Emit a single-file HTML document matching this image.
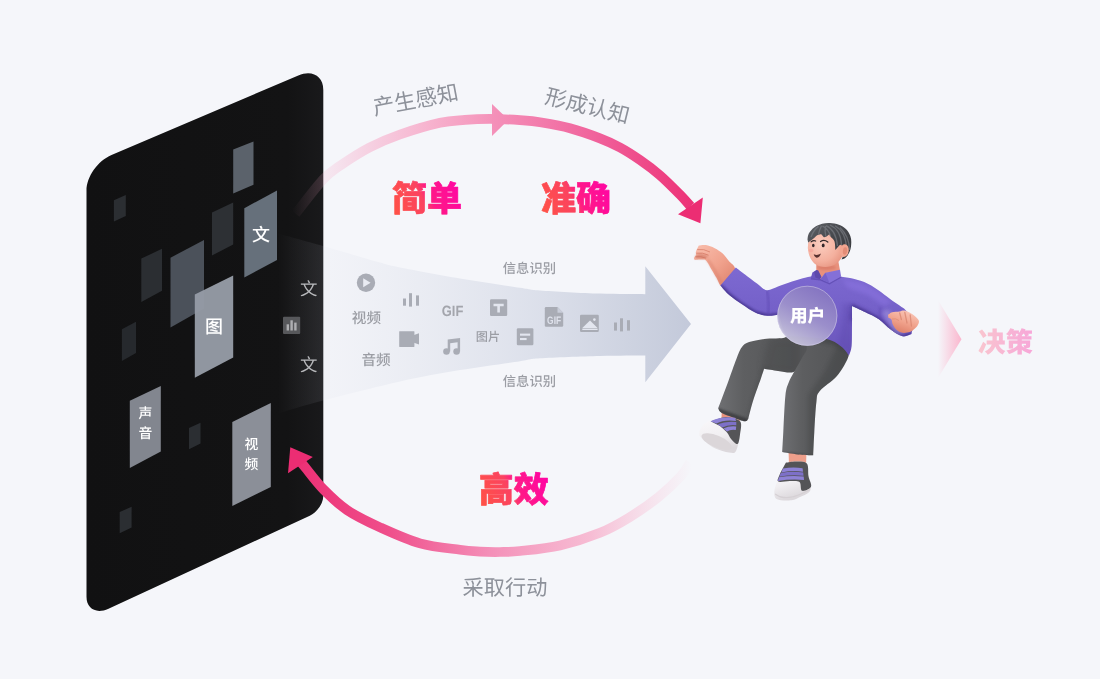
<!DOCTYPE html>
<html lang="zh"><head><meta charset="utf-8"><title>信息识别</title>
<style>html,body{margin:0;padding:0;background:#f5f6fa;overflow:hidden}svg{display:block;will-change:transform;opacity:0.9999}text{text-rendering:geometricPrecision}</style>
</head><body>
<svg width="1100" height="679" viewBox="0 0 1100 679">

<defs>
<linearGradient id="gPhone" x1="86" y1="0" x2="323" y2="0" gradientUnits="userSpaceOnUse">
 <stop offset="0" stop-color="#111112"/><stop offset="0.85" stop-color="#131314"/><stop offset="1" stop-color="#19191b"/>
</linearGradient>
<linearGradient id="gTop" x1="292" y1="0" x2="702" y2="0" gradientUnits="userSpaceOnUse">
 <stop offset="0" stop-color="#f7a6c6" stop-opacity="0"/>
 <stop offset="0.08" stop-color="#f7a6c6" stop-opacity="0.18"/>
 <stop offset="0.2" stop-color="#f7a6c6" stop-opacity="0.5"/>
 <stop offset="0.35" stop-color="#f7a3c4" stop-opacity="0.85"/>
 <stop offset="0.5" stop-color="#f48fb8"/>
 <stop offset="0.75" stop-color="#f0609a"/>
 <stop offset="1" stop-color="#ec2d73"/>
</linearGradient>
<linearGradient id="gBot" x1="288" y1="0" x2="692" y2="0" gradientUnits="userSpaceOnUse">
 <stop offset="0" stop-color="#ec2d73"/>
 <stop offset="0.25" stop-color="#ef4f8b"/>
 <stop offset="0.5" stop-color="#f48fb8"/>
 <stop offset="0.75" stop-color="#f7a9c7" stop-opacity="0.75"/>
 <stop offset="0.92" stop-color="#f9bcd3" stop-opacity="0.25"/>
 <stop offset="1" stop-color="#f9bcd3" stop-opacity="0"/>
</linearGradient>
<linearGradient id="gBeam" x1="278" y1="0" x2="692" y2="0" gradientUnits="userSpaceOnUse">
 <stop offset="0" stop-color="#d9dde9" stop-opacity="0"/>
 <stop offset="0.03" stop-color="#d9dde9" stop-opacity="0.03"/>
 <stop offset="0.11" stop-color="#d5d9e6" stop-opacity="0.09"/>
 <stop offset="0.3" stop-color="#cfd4e2" stop-opacity="0.25"/>
 <stop offset="0.6" stop-color="#c8cede" stop-opacity="0.52"/>
 <stop offset="0.85" stop-color="#c5cbdb" stop-opacity="0.82"/>
 <stop offset="1" stop-color="#c3c9da" stop-opacity="1"/>
</linearGradient>
<linearGradient id="gHot" x1="0" y1="0.62" x2="1" y2="0.38">
 <stop offset="0" stop-color="#ff5147"/><stop offset="0.44" stop-color="#fb4360"/><stop offset="0.56" stop-color="#ff1a86"/><stop offset="1" stop-color="#ff06a2"/>
</linearGradient>
<linearGradient id="gSoft" x1="0" y1="0" x2="1" y2="0">
 <stop offset="0" stop-color="#f9c6cf"/><stop offset="1" stop-color="#f7a6d8"/>
</linearGradient>
<linearGradient id="gChev" x1="938" y1="0" x2="962" y2="0" gradientUnits="userSpaceOnUse">
 <stop offset="0" stop-color="#fbb5cd" stop-opacity="0"/><stop offset="1" stop-color="#fbb5cd" stop-opacity="1"/>
</linearGradient>
<linearGradient id="gCircle" x1="0.75" y1="0.05" x2="0.25" y2="0.95">
 <stop offset="0" stop-color="#8575c1" stop-opacity="0.97"/><stop offset="0.5" stop-color="#9c90cb" stop-opacity="0.97"/><stop offset="1" stop-color="#c6c3da" stop-opacity="0.97"/>
</linearGradient>
<filter id="b1" x="-20%" y="-20%" width="140%" height="140%"><feGaussianBlur stdDeviation="1"/></filter>
<filter id="b2" x="-20%" y="-20%" width="140%" height="140%"><feGaussianBlur stdDeviation="2"/></filter>
<filter id="b3" x="-30%" y="-30%" width="160%" height="160%"><feGaussianBlur stdDeviation="3.5"/></filter>
<filter id="b05" x="-20%" y="-20%" width="140%" height="140%"><feGaussianBlur stdDeviation="0.5"/></filter>
</defs>

<rect width="1100" height="679" fill="#f5f6fa"/>
<path d="M86.50,190.50C86.50,176.69 97.69,160.75 111.50,154.88L298.30,75.52C312.11,69.65 323.30,76.09 323.30,89.90L323.30,495.90C323.30,503.36 317.26,512.19 309.80,515.64L108.50,608.64C96.35,614.25 86.50,608.95 86.50,596.80Z" fill="url(#gPhone)"/>
<g id="tiles">
<path d="M113.9,200.2L125.8,195.0L125.8,216.0L113.9,221.5Z" fill="#2b2e32"/>
<path d="M233.2,149.4L253.5,141.5L253.5,184.8L233.2,193.6Z" fill="#5b626b"/>
<path d="M212.0,212.6L233.2,202.5L233.2,244.4L212.0,255.5Z" fill="#2d3034"/>
<path d="M244.3,208.2L277.0,190.5L277.0,259.9L244.3,277.6Z" fill="#66707b"/>
<path d="M141.3,258.6L162.0,248.8L162.0,290.8L141.3,301.9Z" fill="#2b2e32"/>
<path d="M170.5,257.7L204.0,240.0L204.0,308.5L170.5,327.5Z" fill="#4b515a"/>
<path d="M121.9,329.3L136.0,321.8L136.0,353.0L121.9,360.9Z" fill="#26292d"/>
<path d="M194.8,294.4L233.2,275.4L233.2,357.4L194.8,377.7Z" fill="#959ba5" fill-opacity="0.97"/>
<path d="M129.8,400.7L160.8,386.1L160.8,451.5L129.8,467.9Z" fill="#82868f"/>
<path d="M189.0,428.1L200.5,422.8L200.5,443.6L189.0,449.3Z" fill="#2b2e32"/>
<path d="M232.3,421.9L270.8,402.9L270.8,486.9L232.3,505.9Z" fill="#8b8f98"/>
<path d="M119.7,512.0L131.6,506.8L131.6,527.5L119.7,533.3Z" fill="#2b2e32"/>
</g>
<path d="M295.5,213.8C300.1,208.1 315.6,187.5 323.0,179.5C330.4,171.5 332.2,171.0 340.0,165.7C347.8,160.4 359.5,152.7 369.5,147.5C379.5,142.3 388.2,138.6 400.0,134.5C411.8,130.4 429.2,125.2 440.0,122.8C450.8,120.4 456.7,120.6 465.0,119.9C473.3,119.2 480.8,118.9 490.0,118.9C499.2,119.0 511.7,119.6 520.0,120.2C528.3,120.8 531.7,120.9 540.0,122.3C548.3,123.7 560.0,125.6 570.0,128.3C580.0,131.0 591.7,135.2 600.0,138.4C608.3,141.6 613.3,143.9 620.0,147.5C626.7,151.1 633.3,155.4 640.0,160.0C646.7,164.6 653.3,169.5 660.0,175.3C666.7,181.1 674.9,189.5 680.0,194.7C685.1,199.9 688.8,204.4 690.5,206.3" fill="none" stroke="url(#gTop)" stroke-width="9.7"/>
<path d="M492,104L508.5,119.7L492,136Z" fill="url(#gTop)"/>
<path d="M700.4,223.3L702.8,197.5L678,214.2Z" fill="#ec2d73"/>
<path d="M278.0,233.5C285.5,235.6 306.0,241.2 323.0,246.0C340.0,250.8 367.2,259.0 380.0,262.6C392.8,266.2 386.7,264.9 400.0,267.5C413.3,270.1 440.0,275.1 460.0,278.5C480.0,281.9 506.7,285.7 520.0,287.7C533.3,289.7 526.7,289.4 540.0,290.4C553.3,291.4 582.5,293.0 600.0,293.6C617.5,294.2 637.8,294.1 645.3,294.2L645.3,266.2L691,324.1L645.3,382.3L645.3,355.5C637.8,355.6 617.5,355.5 600.0,356.0C582.5,356.5 553.3,357.4 540.0,358.3C526.7,359.2 533.3,359.2 520.0,361.2C506.7,363.2 480.0,366.7 460.0,370.1C440.0,373.5 422.8,376.4 400.0,381.5C377.2,386.6 343.3,395.3 323.0,400.6C302.7,405.9 285.5,411.4 278.0,413.5Z" fill="url(#gBeam)"/>
<path d="M300.0,461.0C300.9,462.1 301.5,462.9 305.4,467.6C309.3,472.4 316.7,482.4 323.6,489.5C330.6,496.6 337.7,503.8 347.1,510.1C356.5,516.4 367.9,521.8 380.0,527.3C392.1,532.8 406.7,539.5 420.0,543.3C433.3,547.0 450.0,548.4 460.0,549.8C470.0,551.2 473.3,551.2 480.0,551.6C486.7,552.0 493.3,552.1 500.0,552.0C506.7,551.9 510.0,552.1 520.0,551.0C530.0,549.9 546.7,548.4 560.0,545.4C573.3,542.4 588.4,537.5 600.0,532.8C611.6,528.1 619.7,523.3 629.5,517.3C639.3,511.3 650.3,503.6 658.9,496.7C667.5,489.8 675.8,481.8 681.0,476.1C686.2,470.4 688.5,464.8 690.0,462.5" fill="none" stroke="url(#gBot)" stroke-width="9.7"/>
<path d="M290.3,447.2L312.8,457L288,473.3Z" fill="#ec2d73"/>
<g font-family="'Liberation Sans','Noto Sans CJK SC',sans-serif" text-anchor="middle">
<text x="261" y="240.5" font-size="18" font-weight="500" fill="#fff">文</text>
<text x="214" y="332.5" font-size="18" font-weight="500" fill="#fff">图</text>
<text x="145.3" y="417.6" font-size="13.8" font-weight="500" fill="#fff">声</text><text x="145.3" y="438" font-size="13.8" font-weight="500" fill="#fff">音</text>
<text x="251.3" y="448.6" font-size="13.8" font-weight="500" fill="#fff">视</text><text x="251.3" y="469" font-size="13.8" font-weight="500" fill="#fff">频</text>
<text x="308.7" y="294.9" font-size="17.5" fill="#b7b8bb">文</text>
<text x="308.7" y="370.9" font-size="17.5" fill="#b7b8bb">文</text>
<rect x="283" y="316.8" width="17.2" height="17.2" rx="1" fill="#57585b"/>
<g fill="#aeafb2"><rect x="286.6" y="324.3" width="2.4" height="6.2"/><rect x="290.4" y="320.3" width="2.4" height="10.2"/><rect x="294.2" y="322.6" width="2.4" height="7.9"/></g>
<text transform="translate(417,107.2) rotate(-10.6)" font-size="21.6" fill="#8d919a">产生感知</text>
<text transform="translate(585.6,113.3) rotate(13.8)" font-size="21.5" fill="#8d919a">形成认知</text>
<text x="505" y="595" font-size="21.2" fill="#8d919a">采取行动</text>
<g font-weight="900" font-size="35" fill="url(#gHot)" stroke="url(#gHot)" stroke-width="0.7" stroke-linejoin="round">
<text x="427" y="211">简单</text>
<text x="576" y="211">准确</text>
<text x="513.7" y="502.3">高效</text>
</g>
<g fill="#9b9da4" font-weight="500">
<text x="529.4" y="272.8" font-size="13.3">信息识别</text>
<text x="529.4" y="385.8" font-size="13.3">信息识别</text>
<text x="366.4" y="322.5" font-size="14.6">视频</text>
<text x="376" y="364.8" font-size="14.6">音频</text>
<text x="452.6" y="315.7" font-size="14.9" font-weight="bold" fill="#a3a5ac" font-family="'Liberation Sans',sans-serif" textLength="21.6" lengthAdjust="spacingAndGlyphs">GIF</text>
<text x="488" y="340.6" font-size="12.2">图片</text>
</g>
<path d="M938,300L961.5,339.2L938,378Z" fill="url(#gChev)"/>
<text x="1005.5" y="352.3" font-size="27.5" font-weight="900" fill="url(#gSoft)">决策</text>
</g>
<g fill="#a9acb5">
<circle cx="366" cy="282.8" r="9.2"/><path d="M363.2,278.3L370.6,282.8L363.2,287.3Z" fill="#e9ebf2"/>
<rect x="403" y="298.5" width="3" height="7.2"/><rect x="409" y="293.2" width="3" height="13.4"/><rect x="416" y="295.4" width="3" height="10.3"/>
<rect x="399.2" y="331.2" width="15.2" height="15.7" rx="0.4"/><path d="M414,335L419,333.3V344.6L414,342.8Z"/>
<path d="M447.7,339.6L460.1,338V351.6H457.6V342.3L450.2,343.3V351.6H447.7Z"/><circle cx="446.5" cy="351.5" r="3.3"/><circle cx="456.6" cy="351.5" r="3.3"/>
<rect x="490" y="299.2" width="17.2" height="16.8" rx="1.2"/><path d="M493.5,303.8H503.7V306.3H499.9V312.6H497.3V306.3H493.5Z" fill="#e3e6ef"/>
<rect x="516.8" y="328.2" width="16.6" height="17" rx="1.2"/><rect x="520" y="333.6" width="10.2" height="2.1" fill="#e3e6ef"/><rect x="520" y="338" width="6.6" height="2.1" fill="#e3e6ef"/>
<path d="M546,307H557.5L563.2,312.7V325.6A1.2,1.2 0 0 1 562,326.8H546A1.2,1.2 0 0 1 544.8,325.6V308.2A1.2,1.2 0 0 1 546,307Z"/><path d="M557.5,307V312.7H563.2Z" fill="#c9cdd9"/>
<text x="554.1" y="324.4" font-size="10.8" font-weight="bold" fill="#dfe2ec" text-anchor="middle" font-family="'Liberation Sans',sans-serif" textLength="14" lengthAdjust="spacingAndGlyphs">GIF</text>
<rect x="580" y="314.8" width="18.8" height="17.2" rx="1.2"/><path d="M582.3,328L590,320.4L597.6,328Z" fill="#e3e6ef"/><rect x="582.3" y="328.6" width="15.3" height="1.4" fill="#e3e6ef"/><circle cx="594.4" cy="319.6" r="1.3" fill="#e3e6ef"/>
<rect x="614" y="322.5" width="3" height="8.1"/><rect x="620" y="318.3" width="3" height="13.1"/><rect x="627" y="320.2" width="3" height="10.4"/>
</g>
<defs>
<linearGradient id="gPantsL" x1="716" y1="0" x2="795" y2="0" gradientUnits="userSpaceOnUse"><stop offset="0" stop-color="#707174"/><stop offset="0.35" stop-color="#5e5f61"/><stop offset="1" stop-color="#555658"/></linearGradient>
<linearGradient id="gPantsR" x1="782" y1="0" x2="850" y2="0" gradientUnits="userSpaceOnUse"><stop offset="0" stop-color="#6e6f72"/><stop offset="0.3" stop-color="#5d5e60"/><stop offset="1" stop-color="#525355"/></linearGradient>
<linearGradient id="gShirt" x1="0" y1="268" x2="0" y2="356" gradientUnits="userSpaceOnUse"><stop offset="0" stop-color="#7d69d1"/><stop offset="0.5" stop-color="#7460c8"/><stop offset="1" stop-color="#6a55bb"/></linearGradient>
<linearGradient id="gSkin" x1="0" y1="0" x2="1" y2="1"><stop offset="0" stop-color="#f9bfae"/><stop offset="0.55" stop-color="#f0a18c"/><stop offset="1" stop-color="#dc7f69"/></linearGradient>
<linearGradient id="gFist" x1="0.75" y1="0" x2="0.3" y2="1"><stop offset="0" stop-color="#fac9bb"/><stop offset="0.5" stop-color="#f1a48e"/><stop offset="1" stop-color="#dd7d66"/></linearGradient>
<radialGradient id="gFace" cx="0.35" cy="0.4" r="0.75"><stop offset="0" stop-color="#fbcdbf"/><stop offset="0.6" stop-color="#f4b09e"/><stop offset="1" stop-color="#e48e7a"/></radialGradient>
<linearGradient id="gHair" x1="0" y1="0" x2="1" y2="1"><stop offset="0" stop-color="#5f6267"/><stop offset="0.5" stop-color="#45474c"/><stop offset="1" stop-color="#34363a"/></linearGradient>
<linearGradient id="gShoeW" x1="0" y1="0" x2="0.3" y2="1"><stop offset="0" stop-color="#faf9fb"/><stop offset="0.6" stop-color="#f1eff2"/><stop offset="1" stop-color="#dcd8dc"/></linearGradient>
<clipPath id="cShirt"><path id="shirtPath" d="M735.8,267.5C737.3,268.7 741.5,271.8 745.0,274.5C748.5,277.2 753.4,280.9 757.0,283.5C760.6,286.1 763.2,289.7 766.7,290.2C770.2,290.7 773.8,287.9 778.0,286.5C782.2,285.1 787.5,282.9 792.0,281.5C796.5,280.1 801.2,278.8 805.0,277.8C808.8,276.8 813.3,275.9 815.0,275.5L815.0,275.5C816.7,276.1 821.2,278.8 825.0,279.0C828.8,279.2 835.8,276.9 838.0,276.5L838.0,276.5C840.0,276.8 845.6,277.1 850.0,278.0C854.4,278.9 859.5,280.1 864.2,282.1C868.9,284.1 873.6,287.1 878.0,290.0C882.4,292.9 886.4,296.4 890.7,299.5C895.0,302.6 901.8,307.0 904.0,308.5L904.0,308.5C905.5,310.4 911.8,315.8 913.0,320.0C914.2,324.2 911.8,331.7 911.5,334.0L911.5,334.0C910.0,334.4 906.0,337.0 902.5,336.3C899.0,335.6 894.6,332.5 890.7,329.6C886.8,326.8 883.2,322.1 878.9,319.2C874.6,316.3 869.5,314.2 865.0,312.0C860.5,309.8 854.2,307.0 852.0,306.0L852.0,306.0C852.0,309.2 852.1,318.3 852.0,325.0C851.9,331.7 852.1,340.9 851.6,346.0C851.1,351.1 849.4,353.9 849.0,355.5L849.0,355.5C847.8,354.1 844.9,349.5 841.5,346.8C838.1,344.1 834.5,341.0 828.4,339.4C822.3,337.8 812.1,337.9 805.0,337.0C797.9,336.1 790.3,337.8 786.0,334.0C781.7,330.2 780.4,317.8 779.3,314.5L779.3,314.5C777.3,314.7 771.4,316.1 767.5,315.8C763.6,315.5 760.0,314.7 755.7,312.8C751.5,310.9 746.4,307.3 742.0,304.3C737.6,301.3 732.8,298.1 729.2,295.0C725.6,291.9 721.9,287.0 720.4,285.4Z"/></clipPath>
<clipPath id="cLegL"><path d="M786.0,325.0C786.0,327.0 789.6,334.7 786.0,337.0C782.4,339.3 770.2,338.0 764.1,338.9C758.0,339.8 752.9,340.7 749.1,342.1C745.4,343.5 743.7,344.5 741.6,347.4C739.5,350.2 738.6,353.3 736.3,359.2C734.0,365.1 730.8,374.5 727.8,382.7C724.8,390.9 719.8,404.0 718.2,408.3L718.2,408.3C718.7,409.1 718.9,411.3 721.4,412.8C723.9,414.3 729.1,416.1 733.0,417.5C736.9,418.9 742.4,421.1 744.9,421.3C747.4,421.5 747.7,419.2 748.3,418.8L748.3,418.8C749.1,415.6 751.3,406.5 753.4,399.8C755.5,393.1 759.1,383.6 760.9,378.4C762.7,373.2 763.6,370.4 764.1,368.8L764.1,368.8C766.4,369.2 773.7,370.4 778.0,371.0C782.3,371.6 786.7,372.6 789.7,372.6C792.7,372.6 795.0,371.3 796.0,371.0L796.0,371.0C798.7,367.5 809.3,357.7 812.0,350.0C814.7,342.3 812.0,329.2 812.0,325.0L812.0,325.0C807.7,325.0 790.3,325.0 786.0,325.0Z"/></clipPath>
<clipPath id="cLegR"><path d="M800.0,325.0C805.4,325.8 824.1,325.7 832.4,330.0C840.6,334.3 846.6,347.2 849.5,350.6L849.5,350.6C849.1,352.0 849.5,354.9 847.4,359.2C845.3,363.5 841.3,371.0 836.7,376.3C832.1,381.6 823.0,386.9 819.6,391.2C816.2,395.5 817.3,395.1 816.4,401.9C815.5,408.7 814.8,422.9 814.3,431.8C813.8,440.7 813.4,451.4 813.2,455.3L813.2,455.3C810.7,455.2 803.2,455.0 798.0,454.5C792.8,454.0 784.8,452.5 782.2,452.1L782.2,452.1C782.4,448.7 782.8,441.2 783.3,431.8C783.8,422.4 784.5,403.7 785.4,395.5C786.3,387.3 787.2,386.6 788.6,382.7C790.0,378.8 791.7,376.3 794.0,372.0C796.3,367.7 800.4,361.3 802.5,357.0C804.6,352.7 807.2,351.7 806.8,346.4C806.4,341.1 801.1,328.6 800.0,325.0Z"/></clipPath>
</defs>
<path d="M722,404L742,410L739.5,423L721.5,418Z" fill="#e8917d"/>
<path d="M788.5,450H806.5L806,466H789Z" fill="#ee9f8b"/>
<path d="M786.0,325.0C786.0,327.0 789.6,334.7 786.0,337.0C782.4,339.3 770.2,338.0 764.1,338.9C758.0,339.8 752.9,340.7 749.1,342.1C745.4,343.5 743.7,344.5 741.6,347.4C739.5,350.2 738.6,353.3 736.3,359.2C734.0,365.1 730.8,374.5 727.8,382.7C724.8,390.9 719.8,404.0 718.2,408.3L718.2,408.3C718.7,409.1 718.9,411.3 721.4,412.8C723.9,414.3 729.1,416.1 733.0,417.5C736.9,418.9 742.4,421.1 744.9,421.3C747.4,421.5 747.7,419.2 748.3,418.8L748.3,418.8C749.1,415.6 751.3,406.5 753.4,399.8C755.5,393.1 759.1,383.6 760.9,378.4C762.7,373.2 763.6,370.4 764.1,368.8L764.1,368.8C766.4,369.2 773.7,370.4 778.0,371.0C782.3,371.6 786.7,372.6 789.7,372.6C792.7,372.6 795.0,371.3 796.0,371.0L796.0,371.0C798.7,367.5 809.3,357.7 812.0,350.0C814.7,342.3 812.0,329.2 812.0,325.0L812.0,325.0C807.7,325.0 790.3,325.0 786.0,325.0Z" fill="url(#gPantsL)"/>
<g clip-path="url(#cLegL)"><path d="M770,338L800,338L800,376L762,372Q764,352 770,338Z" fill="#2f3032" opacity="0.18" filter="url(#b3)"/><path d="M746,425L752,400L763,368L770,368L756,425Z" fill="#2f3032" opacity="0.22" filter="url(#b2)"/><path d="M718,408L748,419L747,424L717,412Z" fill="#2a2b2d" opacity="0.6" filter="url(#b1)"/></g>
<path d="M800.0,325.0C805.4,325.8 824.1,325.7 832.4,330.0C840.6,334.3 846.6,347.2 849.5,350.6L849.5,350.6C849.1,352.0 849.5,354.9 847.4,359.2C845.3,363.5 841.3,371.0 836.7,376.3C832.1,381.6 823.0,386.9 819.6,391.2C816.2,395.5 817.3,395.1 816.4,401.9C815.5,408.7 814.8,422.9 814.3,431.8C813.8,440.7 813.4,451.4 813.2,455.3L813.2,455.3C810.7,455.2 803.2,455.0 798.0,454.5C792.8,454.0 784.8,452.5 782.2,452.1L782.2,452.1C782.4,448.7 782.8,441.2 783.3,431.8C783.8,422.4 784.5,403.7 785.4,395.5C786.3,387.3 787.2,386.6 788.6,382.7C790.0,378.8 791.7,376.3 794.0,372.0C796.3,367.7 800.4,361.3 802.5,357.0C804.6,352.7 807.2,351.7 806.8,346.4C806.4,341.1 801.1,328.6 800.0,325.0Z" fill="url(#gPantsR)"/>
<g clip-path="url(#cLegR)"><path d="M852,350L840,378L822,394L818,456L808,456L808,395L826,370L838,345Z" fill="#2c2d2f" opacity="0.2" filter="url(#b2)"/><path d="M782,452L813,455.5L813,460L782,457Z" fill="#2a2b2d" opacity="0.5" filter="url(#b1)"/><path d="M800,338L852,338L852,352L832,344Z" fill="#1f2022" opacity="0.3" filter="url(#b2)"/></g>
<g id="shoeL">
<path d="M699.3,431.4C699.9,430.4 700.9,427.3 702.7,425.5C704.5,423.7 706.8,422.0 710.3,420.6C713.8,419.2 720.2,417.8 723.9,417.4C727.6,417.0 729.5,417.2 732.3,418.0C735.1,418.8 739.3,419.5 740.6,422.1C741.9,424.8 740.7,429.1 739.9,433.9C739.1,438.7 737.8,447.8 736.0,450.9C734.2,454.0 732.3,452.8 728.9,452.4C725.5,452.0 719.5,450.4 715.4,448.5C711.3,446.6 707.1,443.0 704.4,440.9C701.7,438.8 700.1,436.5 699.3,435.6Z" fill="url(#gShoeW)"/>
<path d="M711.0,421.4C713.1,420.7 720.4,417.9 723.9,417.3C727.4,416.7 729.5,417.1 732.3,417.9C735.1,418.7 739.3,419.3 740.6,422.1C741.9,424.9 740.5,430.9 740.0,434.5C739.5,438.1 739.0,443.2 737.6,444.0C736.2,444.8 733.3,441.4 731.5,439.5C729.7,437.6 728.9,434.8 727.0,432.5C725.1,430.2 721.2,427.1 720.0,426.0Z" fill="#555558"/>
<ellipse cx="716.6" cy="441.6" rx="16.2" ry="6" transform="rotate(23 716.6 441.6)" fill="#dbd6d9"/>
<path d="M710.5,421.3Q722,415.6 735.2,417.8L736,421Q724,419.3 716.5,423.6Z" fill="#8e82d6"/>
<path d="M717.6,424.3Q726,420.8 736.3,422L736.3,425.3Q728,424.3 722.4,427.6Z" fill="#7d70c8"/>
<path d="M723.4,428.4Q729,425.8 736.2,426.5L735.8,430Q730,429.3 727,431.6Z" fill="#8e82d6"/>
</g>
<g id="shoeR">
<path d="M785.6,462.7C787.3,462.5 792.5,461.5 796.0,461.6C799.5,461.8 804.7,461.2 806.8,463.6C808.9,466.1 807.8,472.5 808.5,476.3C809.2,480.1 811.0,483.7 811.0,486.4C811.0,489.1 810.5,490.7 808.7,492.5C806.9,494.3 802.9,495.7 800.0,497.0C797.1,498.3 795.4,499.8 791.6,500.2C787.8,500.6 780.1,500.8 777.2,499.3C774.3,497.9 774.2,494.8 774.3,491.5C774.4,488.2 776.7,483.3 778.0,479.6C779.3,475.9 781.6,471.2 782.3,469.5Z" fill="url(#gShoeW)"/>
<path d="M785.8,462.8C787.5,462.6 792.5,461.5 796.0,461.6C799.5,461.7 804.7,461.2 806.8,463.6C808.9,466.1 807.8,472.4 808.5,476.3C809.2,480.2 812.1,484.4 811.0,486.8C809.9,489.2 803.9,491.6 802.0,490.8C800.1,490.0 801.5,483.6 799.5,482.0C797.5,480.4 793.5,481.1 790.0,481.0C786.5,480.9 780.0,482.6 778.3,481.6C776.5,480.6 778.8,477.1 779.5,475.0C780.2,472.9 781.8,470.2 782.3,469.3Z" fill="#545457"/>
<path d="M775.2,494.0C776.2,494.5 778.4,496.5 781.0,497.0C783.6,497.5 787.7,497.7 791.0,497.2C794.3,496.7 797.8,495.3 801.0,494.0C804.2,492.7 808.5,490.2 810.0,489.5" fill="none" stroke="#d5d0d4" stroke-width="1.3"/>
<path d="M783,468.6Q793,466.5 802.6,468.3L803,471.7Q793,470.2 781.3,472.5Z" fill="#8e82d6"/>
<path d="M780.8,473.1Q792,470.9 803.2,472.5L803.5,475.8Q792,474.4 779.3,476.7Z" fill="#7d70c8"/>
<path d="M779,477.3Q791,475.1 803.7,476.5L804,480Q791,478.8 777.8,481Z" fill="#8e82d6"/>
</g>
<path d="M698.8,245.5C700.0,245.4 703.2,244.7 705.9,245.1C708.5,245.5 711.9,246.8 714.7,248.2C717.5,249.6 720.3,251.4 722.7,253.5C725.1,255.6 726.9,258.5 728.9,261.0C730.9,263.5 735.0,265.5 735.0,268.5C735.0,271.5 731.2,276.1 729.0,279.0C726.8,281.9 723.6,286.2 721.5,286.0C719.4,285.8 718.2,280.7 716.5,277.8C714.8,274.9 712.7,271.4 711.2,268.9C709.7,266.4 708.8,264.2 707.7,262.7C706.6,261.1 705.8,260.1 704.5,259.6C703.2,259.1 701.4,259.6 699.7,259.6C698.1,259.6 695.5,260.1 694.6,259.8C693.7,259.5 694.0,258.4 694.2,257.6C694.4,256.8 695.7,255.9 696.0,255.0C696.3,254.1 695.6,253.0 695.8,252.0C696.0,251.0 696.8,249.5 697.0,249.0Z" fill="url(#gSkin)"/>
<path d="M697.2,249.6Q704,248.6 710,252M696.2,253.2Q703,252.2 708.5,255.2M695.4,256.8Q701,256 706,258.2" stroke="#d9806c" stroke-width="1" fill="none" opacity="0.8" filter="url(#b05)"/>
<path d="M706,260Q711,266 716.5,277.8L721.5,286L724,284Q716,268 709,259Z" fill="#d9806c" opacity="0.45" filter="url(#b1)"/>
<path d="M695,258.6L704.5,259L709,256L701,253.4L696.2,254.6Z" fill="#c46855" opacity="0.5" filter="url(#b1)"/>
<path d="M735.8,267.5C737.3,268.7 741.5,271.8 745.0,274.5C748.5,277.2 753.4,280.9 757.0,283.5C760.6,286.1 763.2,289.7 766.7,290.2C770.2,290.7 773.8,287.9 778.0,286.5C782.2,285.1 787.5,282.9 792.0,281.5C796.5,280.1 801.2,278.8 805.0,277.8C808.8,276.8 813.3,275.9 815.0,275.5L815.0,275.5C816.7,276.1 821.2,278.8 825.0,279.0C828.8,279.2 835.8,276.9 838.0,276.5L838.0,276.5C840.0,276.8 845.6,277.1 850.0,278.0C854.4,278.9 859.5,280.1 864.2,282.1C868.9,284.1 873.6,287.1 878.0,290.0C882.4,292.9 886.4,296.4 890.7,299.5C895.0,302.6 901.8,307.0 904.0,308.5L904.0,308.5C905.5,310.4 911.8,315.8 913.0,320.0C914.2,324.2 911.8,331.7 911.5,334.0L911.5,334.0C910.0,334.4 906.0,337.0 902.5,336.3C899.0,335.6 894.6,332.5 890.7,329.6C886.8,326.8 883.2,322.1 878.9,319.2C874.6,316.3 869.5,314.2 865.0,312.0C860.5,309.8 854.2,307.0 852.0,306.0L852.0,306.0C852.0,309.2 852.1,318.3 852.0,325.0C851.9,331.7 852.1,340.9 851.6,346.0C851.1,351.1 849.4,353.9 849.0,355.5L849.0,355.5C847.8,354.1 844.9,349.5 841.5,346.8C838.1,344.1 834.5,341.0 828.4,339.4C822.3,337.8 812.1,337.9 805.0,337.0C797.9,336.1 790.3,337.8 786.0,334.0C781.7,330.2 780.4,317.8 779.3,314.5L779.3,314.5C777.3,314.7 771.4,316.1 767.5,315.8C763.6,315.5 760.0,314.7 755.7,312.8C751.5,310.9 746.4,307.3 742.0,304.3C737.6,301.3 732.8,298.1 729.2,295.0C725.6,291.9 721.9,287.0 720.4,285.4Z" fill="url(#gShirt)"/>
<g clip-path="url(#cShirt)">
<path d="M720,286L742,306L757,315L770,318L782,316L782,322L740,320Z" fill="#45328f" opacity="0.75" filter="url(#b2)"/>
<path d="M720.4,285.4L729.2,295L742,304.3L755.7,312.8L767.5,315.8L779.3,314.5" stroke="#3b2c80" stroke-width="3.5" fill="none" opacity="0.6" filter="url(#b1)"/>
<path d="M852,306L865,312L878.9,319.2L890.7,329.6L902.5,336.3L911.5,334" stroke="#3b2c80" stroke-width="3.5" fill="none" opacity="0.5" filter="url(#b1)"/>
<path d="M766.7,290.4Q770,302 768,316" stroke="#5a45ae" stroke-width="2" fill="none" opacity="0.6" filter="url(#b1)"/>
<path d="M843,304L853,304L853,357L838,345Q843,325 843,304Z" fill="#4e3b9d" opacity="0.22" filter="url(#b2)"/>
<path d="M852,304L866,311L880,319L892,329.5L903,336.5L913,334L913,342L850,320Z" fill="#45328f" opacity="0.7" filter="url(#b2)"/>
<path d="M842,279L864,283.5L879,292L892,302L884,306L868,295L848,288Z" fill="#8b75e0" opacity="0.6" filter="url(#b2)"/>
<path d="M880.5,307Q878,318 884,326L896,336" stroke="#5e49b2" stroke-width="2.2" fill="none" opacity="0.5" filter="url(#b1)"/>
<path d="M882,312L888,309L905,333L895,336Z" fill="#c9c0ee" opacity="0.35" filter="url(#b2)"/>
</g>
<path d="M888.0,314.9C888.7,314.5 890.2,312.9 892.1,312.3C894.0,311.7 897.4,311.7 899.5,311.4C901.6,311.1 902.6,310.2 904.6,310.6C906.6,311.0 909.1,312.3 911.2,313.6C913.3,314.9 915.8,316.9 917.1,318.2C918.4,319.5 919.0,320.2 919.0,321.5C919.0,322.8 918.2,324.5 917.3,325.9C916.4,327.3 914.6,328.8 913.4,329.8C912.1,330.8 911.6,331.5 909.8,332.0C908.0,332.5 904.6,333.2 902.4,332.8C900.2,332.4 898.1,331.2 896.5,329.8C894.9,328.4 893.6,326.2 892.8,324.5C891.9,322.8 892.1,320.6 891.4,319.5C890.7,318.4 888.9,318.1 888.4,317.8Z" fill="url(#gFist)"/>
<path d="M899.7,313L901.4,319.5M904.8,312.5L907,323M910.2,315L911.4,326" stroke="#d9856f" stroke-width="1.3" fill="none" opacity="0.75" filter="url(#b05)" stroke-linecap="round"/>
<path d="M892,319Q896,318 899,320.5" stroke="#d9856f" stroke-width="1" fill="none" opacity="0.6" filter="url(#b05)"/>
<path d="M816.3,261L838.3,261L840,270.5L825.3,273.2L820.6,279L816.3,270.5Z" fill="#e8917d"/>
<ellipse cx="826.5" cy="267.5" rx="9.5" ry="2.6" fill="#cf6b58" opacity="0.45" filter="url(#b1)"/>
<ellipse cx="844.6" cy="250" rx="4.2" ry="5.2" fill="#f0a28f"/>
<path d="M808.3,241.0C808.9,239.5 809.0,234.0 812.0,232.0C815.0,230.0 821.3,228.7 826.0,229.0C830.7,229.3 836.8,231.2 840.0,234.0C843.2,236.8 844.7,242.2 845.0,246.0C845.3,249.8 843.7,253.9 842.0,257.0C840.3,260.1 837.8,262.8 835.0,264.5C832.2,266.2 828.3,267.1 825.0,267.0C821.7,266.9 817.6,265.8 815.0,264.0C812.4,262.2 810.7,258.7 809.5,256.0C808.3,253.3 808.1,249.3 807.8,248.0Z" fill="url(#gFace)"/>
<path d="M807.5,239.5C807.7,238.5 807.7,235.6 808.8,233.6C809.9,231.6 811.9,229.0 814.1,227.4C816.3,225.8 819.5,224.5 822.1,223.8C824.8,223.1 827.2,222.8 830.0,223.0C832.8,223.2 836.2,223.7 838.9,224.7C841.5,225.7 844.0,227.2 845.9,229.1C847.8,231.0 849.5,233.7 850.4,236.2C851.3,238.7 851.4,241.5 851.2,244.2C851.1,246.8 850.5,249.8 849.5,252.1C848.5,254.4 846.8,256.6 845.5,257.8C844.2,259.1 842.2,259.3 841.5,259.6L841.5,259.6C841.8,258.7 843.3,256.1 843.5,254.0C843.7,251.9 843.0,248.5 842.5,247.0C842.0,245.5 841.3,244.7 840.5,244.8C839.7,244.9 838.4,246.6 837.5,247.5C836.6,248.4 835.8,249.6 835.4,250.0L835.4,250.0C835.2,248.6 835.2,243.7 834.5,241.5C833.8,239.3 831.8,238.3 830.9,237.1C830.0,235.9 829.5,234.7 829.2,234.2L829.2,234.2C828.8,234.6 827.4,235.9 826.5,236.4C825.6,236.9 824.3,237.2 823.9,237.3L823.9,237.3C823.5,236.8 821.7,234.7 821.2,234.2L821.2,234.2C820.6,234.3 818.9,234.4 817.7,235.0C816.5,235.6 815.3,237.0 814.1,238.0C812.9,239.0 811.6,240.0 810.6,240.8C809.6,241.6 808.6,242.3 808.2,242.6L808.2,242.6C808.1,242.1 807.6,240.0 807.5,239.5Z" fill="url(#gHair)"/>
<path d="M826,225.6Q836,230 837.5,246M830,225Q841,230 841.5,245M835,225.8Q846,232 846.6,249M822.5,226Q828.5,229.5 830.5,236M818.5,226.4Q813.5,230 811,237M821.5,225.8Q819,231 818.5,234.6M840,227.6Q849,236 849.6,250M825.5,226Q824.5,231 825.8,236" stroke="#80838a" stroke-width="1.3" fill="none" opacity="0.6" filter="url(#b05)"/>
<ellipse cx="844.3" cy="250.6" rx="4.4" ry="6.4" fill="#f2a590" transform="rotate(8 844.3 250.6)"/><ellipse cx="845" cy="251" rx="2.1" ry="3.7" fill="#de8670" opacity="0.8" transform="rotate(8 845 251)"/>
<ellipse cx="813.3" cy="245.6" rx="1.3" ry="1.75" fill="#33272a"/><ellipse cx="823.2" cy="245.4" rx="1.45" ry="1.85" fill="#33272a"/>
<path d="M811.2,241.8Q813.3,240.2 815.6,241" stroke="#33292b" stroke-width="1.25" fill="none" stroke-linecap="round"/><path d="M820.6,241.6Q824,239 827.8,242" stroke="#33292b" stroke-width="1.3" fill="none" stroke-linecap="round"/>
<path d="M813.8,254.2Q817,256 821,253.6Q819.5,258 816,257.6Q814,256.8 813.8,254.2Z" fill="#5a3230"/>
<ellipse cx="811" cy="250.5" rx="2.4" ry="1.8" fill="#f59d94" opacity="0.55"/>
<path d="M811,278.6L819.8,279.6L829.4,283.6L841.3,276.8" stroke="#4f3ca2" stroke-width="1.6" fill="none" opacity="0.5" filter="url(#b05)"/>
<path d="M816.6,270L812.4,272.6L810.8,278.2L819.6,279L821.6,277.2L818.2,270.6Z" fill="#6b57c0"/>
<path d="M816.6,270L814.2,271.6L815.4,277.6L819.6,279L821.6,277.2L818.2,270.6Z" fill="#54419f" opacity="0.6"/>
<path d="M820.6,279L825.3,272.8L840,269.8L841.1,276.5L829.4,283Z" fill="#8470d8"/>
<path d="M820.6,279L825.3,272.8L827.5,278L829.4,283Z" fill="#6f5bc4" opacity="0.7"/>
<circle cx="807.3" cy="315.8" r="30" fill="url(#gCircle)"/>
<circle cx="807.3" cy="315.8" r="29.6" fill="none" stroke="#d8d3ee" stroke-opacity="0.55" stroke-width="0.9"/>
<text x="807.5" y="322.4" font-size="17.6" font-weight="900" fill="#fff" text-anchor="middle" font-family="'Liberation Sans','Noto Sans CJK SC',sans-serif">用户</text>

</svg>
</body></html>
